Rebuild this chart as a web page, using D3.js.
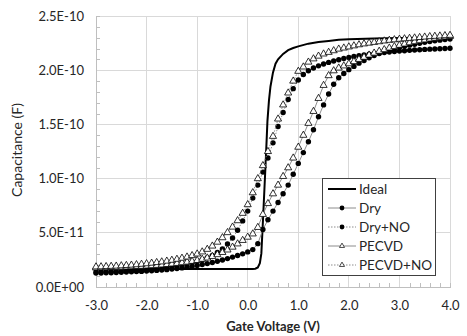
<!DOCTYPE html>
<html>
<head>
<meta charset="utf-8">
<script src="https://cdn.jsdelivr.net/npm/d3@7"></script>
<style>
  html, body { margin: 0; padding: 0; background: #fff; }
  svg { display: block; font-family: Lato, "Open Sans", sans-serif; }
</style>
</head>
<body>
<svg id="chart" width="467" height="336"></svg>
<script>
// ---- data (capacitance in pF, i.e. 1e-12 F) ----
const voltage = [-3.0,-2.9,-2.8,-2.7,-2.6,-2.5,-2.4,-2.3,-2.2,-2.1,-2.0,-1.9,-1.8,-1.7,-1.6,-1.5,-1.4,-1.3,-1.2,-1.1,
  -1.0,-0.9,-0.8,-0.7,-0.6,-0.5,-0.4,-0.3,-0.2,-0.1,0.0,0.1,0.2,0.3,0.4,0.5,0.6,0.7,0.8,0.9,
  1.0,1.1,1.2,1.3,1.4,1.5,1.6,1.7,1.8,1.9,2.0,2.1,2.2,2.3,2.4,2.5,2.6,2.7,2.8,2.9,
  3.0,3.1,3.2,3.3,3.4,3.5,3.6,3.7,3.8,3.9,4.0];

const idealV = [-3.0,-2.0,-1.0,0.0,0.1,0.15,0.2,0.24,0.27,0.3,0.33,0.36,0.39,0.42,0.45,0.5,0.55,0.6,0.7,0.8,0.9,1.0,1.2,1.4,1.6,1.8,2.0,2.5,3.0,3.5,4.0];
const idealC = [16.5,16.5,16.5,16.5,16.6,16.9,18,22,31,60,90,120,153,172,185,198,206,210,215,218.5,220.5,222,224.5,226,227,228,228.5,229.3,229.8,230,230.2];

const dry = [12.8,12.9,13.1,13.2,13.4,13.6,13.8,14.0,14.2,14.4,14.7,15.0,15.3,15.6,16.0,16.5,17.0,17.6,18.3,19.0,
  19.8,20.7,21.6,22.6,23.7,24.9,26.2,27.6,29.0,30.6,32.4,34.5,40,53,62,70,78,86,94,104,
  114,124,134,145,157,168,178,187,193,197,200.5,203.5,206.5,209,211.5,213.5,215.3,217,218.5,219.8,
  221,222.1,223.1,224,224.9,225.7,226.4,227.1,227.7,228.3,228.8];

const dryNO = [13.8,14.0,14.2,14.4,14.6,14.9,15.2,15.5,15.8,16.1,16.5,16.9,17.3,17.8,18.3,18.9,19.6,20.4,21.3,22.4,
  23.7,25.2,27.0,29.2,31.8,35.2,39.6,45.2,52.3,61,70,82,94,106,119,133,148,161,173,183,
  191,196,199.5,202,204,205.7,207.2,208.5,209.7,210.8,211.8,212.6,213.4,214.1,214.7,215.3,215.8,216.3,216.8,217.2,
  217.6,218,218.3,218.6,218.9,219.2,219.4,219.6,219.8,220,220.2];

const pecvd = [17.6,17.7,17.8,18.0,18.1,18.3,18.5,18.7,18.9,19.1,19.4,19.7,20.0,20.4,20.8,21.3,21.8,22.4,23.0,23.7,
  24.5,25.6,26.8,28.2,29.9,31.9,34.2,36.8,39.8,43,46,49,55,67,77,86,94,102,110,119,
  129,140,151,162,174,186,195,199.5,202,204,206,208,210,212,214,215.8,217.5,219,220.5,221.8,
  223,224.2,225.3,226.3,227.2,228,228.8,229.5,230.1,230.7,231.2];

const pecvdNO = [18.6,18.7,18.9,19.1,19.3,19.6,19.9,20.2,20.6,21.0,21.5,22.0,22.6,23.2,23.9,24.7,25.6,26.6,27.7,29.0,
  30.5,32.4,34.8,37.8,41.4,45.5,50.2,55.3,61.2,68,76,87,100,112,125,139,155,168,179,190,
  199,203,207.5,210.5,213,215,216.5,218,219.5,220.5,221.5,222.5,223.5,224.3,225,225.7,226.3,227,227.6,228.1,
  228.6,229,229.4,229.8,230.2,230.6,231,231.3,231.6,231.9,232.2];

const seriesNames = ["Ideal","Dry","Dry+NO","PECVD","PECVD+NO"];

const xTicks = [-3,-2,-1,0,1,2,3,4];
const xTickLabels = ["-3.0","-2.0","-1.0","0.0","1.0","2.0","3.0","4.0"];
const xMinorTicks = [-2.8,-2.6,-2.4,-2.2,-1.8,-1.6,-1.4,-1.2,-0.8,-0.6,-0.4,-0.2,0.2,0.4,0.6,0.8,1.2,1.4,1.6,1.8,2.2,2.4,2.6,2.8,3.2,3.4,3.6,3.8];
const yTicks = [0,50,100,150,200,250];
const yTickLabels = ["0.0E+00","5.0E-11","1.0E-10","1.5E-10","2.0E-10","2.5E-10"];
const yMinorTicks = [10,20,30,40,60,70,80,90,110,120,130,140,160,170,180,190,210,220,230,240];

// ---- layout ----
const svg = d3.select("#chart");
const plotL = 96, plotR = 450, plotT = 16, plotB = 287;
const x = d3.scaleLinear().domain([-3, 4]).range([plotL, plotR]);
const y = d3.scaleLinear().domain([0, 250]).range([plotB, plotT]);

const gridColor = "#d9d9d9";
const textColor = "#262626";

// gridlines
svg.append("g").selectAll("line").data(xTicks).join("line")
  .attr("x1", d => x(d)).attr("x2", d => x(d)).attr("y1", plotT).attr("y2", plotB)
  .attr("stroke", gridColor).attr("stroke-width", 1).attr("shape-rendering", "crispEdges");
svg.append("g").selectAll("line").data(yTicks).join("line")
  .attr("x1", plotL).attr("x2", plotR).attr("y1", d => y(d)).attr("y2", d => y(d))
  .attr("stroke", gridColor).attr("stroke-width", 1).attr("shape-rendering", "crispEdges");

// axes
const xAxis = svg.append("g").attr("transform", `translate(0,${plotB})`)
  .call(d3.axisBottom(x).tickValues(xTicks).tickFormat((d, i) => xTickLabels[i]).tickSize(0).tickPadding(14));
const xMinor = svg.append("g").attr("transform", `translate(0,${plotB})`)
  .call(d3.axisBottom(x).tickValues(xMinorTicks).tickFormat("").tickSize(-4));
const yAxis = svg.append("g").attr("transform", `translate(${plotL},0)`)
  .call(d3.axisLeft(y).tickValues(yTicks).tickFormat((d, i) => yTickLabels[i]).tickSize(0).tickPadding(12));
const yMinor = svg.append("g").attr("transform", `translate(${plotL},0)`)
  .call(d3.axisLeft(y).tickValues(yMinorTicks).tickFormat("").tickSize(-4));

[xAxis, xMinor, yAxis, yMinor].forEach(g => {
  g.select(".domain").attr("stroke", "#bfbfbf").attr("shape-rendering", "crispEdges");
  g.selectAll(".tick line").attr("stroke", "#bfbfbf").attr("shape-rendering", "crispEdges");
  g.selectAll(".tick text").attr("fill", textColor).style("font-size", "13px").style("font-family", "Lato, sans-serif");
});

// axis titles
svg.append("text")
  .attr("x", 273).attr("y", 331)
  .attr("text-anchor", "middle").attr("fill", textColor)
  .style("font-size", "13px").style("font-weight", "bold")
  .text("Gate Voltage (V)");
svg.append("text")
  .attr("transform", `translate(22,150) rotate(-90)`)
  .attr("text-anchor", "middle").attr("fill", textColor)
  .style("font-size", "14px")
  .text("Capacitance (F)");

// ---- series ----
const line = d3.line().x(d => x(d[0])).y(d => y(d[1]));
const zip = (xs, ys) => xs.map((v, i) => [v, ys[i]]);

const plot = svg.append("g");
plot.append("path").datum(zip(idealV, idealC)).attr("d", line)
  .attr("fill", "none").attr("stroke", "#000").attr("stroke-width", 2);

const triSym = d3.symbol().type(d3.symbolTriangle).size(22);

const markerSeries = [
  { name: "Dry", data: dry, dash: null, marker: "circle" },
  { name: "Dry+NO", data: dryNO, dash: "1.5,1.5", marker: "circle" },
  { name: "PECVD", data: pecvd, dash: null, marker: "triangle" },
  { name: "PECVD+NO", data: pecvdNO, dash: "1.5,1.5", marker: "triangle" }
];

markerSeries.forEach(s => {
  const pts = zip(voltage, s.data);
  plot.append("path").datum(pts).attr("d", line)
    .attr("fill", "none").attr("stroke", "#808080").attr("stroke-width", 0.9)
    .attr("stroke-dasharray", s.dash);
  const g = plot.append("g");
  if (s.marker === "circle") {
    g.selectAll("circle").data(pts).join("circle")
      .attr("cx", d => x(d[0])).attr("cy", d => y(d[1])).attr("r", 2.7)
      .attr("fill", "#000");
  } else {
    g.selectAll("path").data(pts).join("path")
      .attr("d", triSym)
      .attr("transform", d => `translate(${x(d[0])},${y(d[1])})`)
      .attr("fill", "#fff").attr("stroke", "#000").attr("stroke-width", 0.8);
  }
});

// ---- legend ----
const lg = svg.append("g");
const lgX = 322, lgY = 178, lgW = 113, lgH = 97;
lg.append("rect").attr("x", lgX).attr("y", lgY).attr("width", lgW).attr("height", lgH)
  .attr("fill", "#fff").attr("stroke", "#404040").attr("stroke-width", 1).attr("shape-rendering", "crispEdges");
const legendItems = [
  { name: seriesNames[0], dash: null, marker: null, color: "#000", w: 2 },
  { name: seriesNames[1], dash: null, marker: "circle", color: "#808080", w: 0.9 },
  { name: seriesNames[2], dash: "1.5,1.5", marker: "circle", color: "#808080", w: 0.9 },
  { name: seriesNames[3], dash: null, marker: "triangle", color: "#808080", w: 0.9 },
  { name: seriesNames[4], dash: "1.5,1.5", marker: "triangle", color: "#808080", w: 0.9 }
];
const smallTri = d3.symbol().type(d3.symbolTriangle).size(11);
legendItems.forEach((it, i) => {
  const cy = lgY + 11 + i * 19;
  lg.append("line").attr("x1", lgX + 6).attr("x2", lgX + 34).attr("y1", cy).attr("y2", cy)
    .attr("stroke", it.color).attr("stroke-width", it.w).attr("stroke-dasharray", it.dash);
  if (it.marker === "circle") {
    lg.append("circle").attr("cx", lgX + 20).attr("cy", cy).attr("r", 2.4).attr("fill", "#000");
  } else if (it.marker === "triangle") {
    lg.append("path").attr("d", smallTri).attr("transform", `translate(${lgX + 20},${cy})`)
      .attr("fill", "#fff").attr("stroke", "#000").attr("stroke-width", 0.7);
  }
  lg.append("text").attr("x", lgX + 37).attr("y", cy).attr("dy", "0.35em")
    .attr("fill", textColor).style("font-size", "13.5px").text(it.name);
});
</script>
</body>
</html>
